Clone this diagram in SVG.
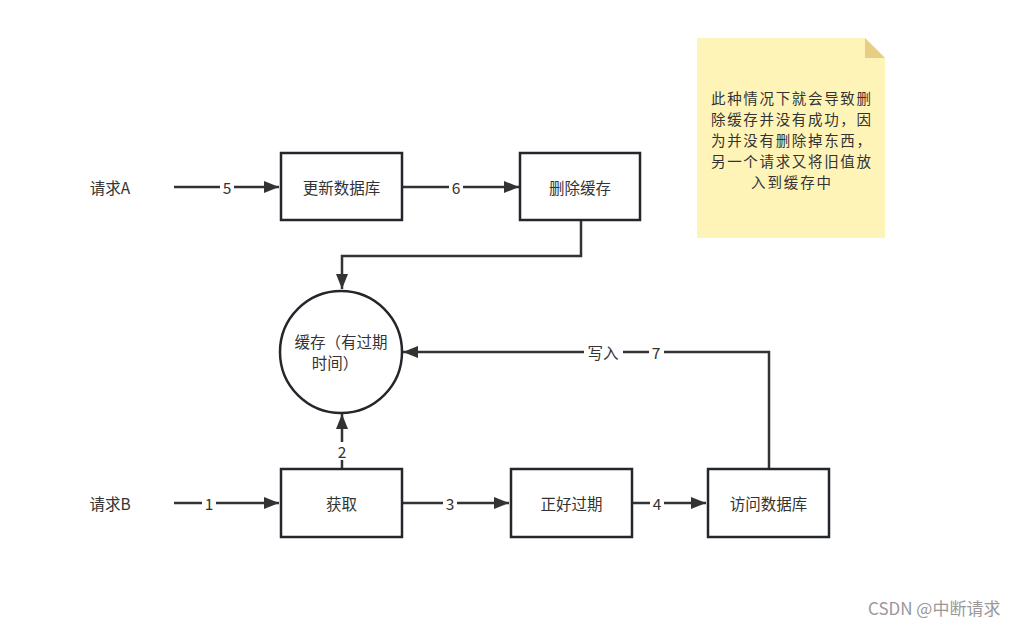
<svg xmlns="http://www.w3.org/2000/svg" width="1020" height="628" viewBox="0 0 1020 628">
<defs>
<style>
text{font-family:"Noto Sans CJK SC","Liberation Sans",sans-serif;font-size:15.5px;fill:#333;}
.box{fill:#fff;stroke:#23272b;stroke-width:2.5;}
.ln{fill:none;stroke:#333;stroke-width:2.5;}
.lbl{text-anchor:middle;dominant-baseline:central;}
.bg{fill:#fff;}
.nt{font-size:14.5px;}
</style>
<marker id="ah" markerWidth="16" markerHeight="12" refX="15" refY="6" orient="auto" markerUnits="userSpaceOnUse">
<path d="M0,0 L15,6 L0,12 Z" fill="#333"/>
</marker>
</defs>
<rect width="1020" height="628" fill="#fff"/>
<g id="connectors">
<path class="ln" d="M174,187 H279" marker-end="url(#ah)"/>
<rect class="bg" x="220" y="178" width="14" height="18"/>
<text class="lbl" x="227" y="187">5</text>
<path class="ln" d="M402,187 H519" marker-end="url(#ah)"/>
<rect class="bg" x="449" y="178" width="14" height="18"/>
<text class="lbl" x="456" y="187">6</text>
<path class="ln" d="M581,220 V256 H342 V289" marker-end="url(#ah)"/>
<path class="ln" d="M769,468 V352 H403" marker-end="url(#ah)"/>
<rect class="bg" x="584" y="343" width="39" height="18"/>
<text class="lbl" x="603" y="352">写入</text>
<rect class="bg" x="649" y="343" width="15" height="18"/>
<text class="lbl" x="656" y="352">7</text>
<path class="ln" d="M342,468 V414" marker-end="url(#ah)"/>
<rect class="bg" x="334" y="442" width="16" height="18"/>
<text class="lbl" x="342" y="451">2</text>
<path class="ln" d="M174,503 H279" marker-end="url(#ah)"/>
<rect class="bg" x="202" y="494" width="14" height="18"/>
<text class="lbl" x="209" y="503">1</text>
<path class="ln" d="M402,503 H509" marker-end="url(#ah)"/>
<rect class="bg" x="443" y="494" width="14" height="18"/>
<text class="lbl" x="450" y="503">3</text>
<path class="ln" d="M632,503 H706" marker-end="url(#ah)"/>
<rect class="bg" x="650" y="494" width="14" height="18"/>
<text class="lbl" x="657" y="503">4</text>
</g>
<g id="reqA"><text class="lbl" x="110" y="187">请求A</text></g>
<g id="reqB"><text class="lbl" x="110" y="503">请求B</text></g>
<g id="updateDb"><rect class="box" x="281" y="153" width="121" height="67"/><text class="lbl" x="341.5" y="187">更新数据库</text></g>
<g id="deleteCache"><rect class="box" x="520" y="153" width="120" height="67"/><text class="lbl" x="580" y="187">删除缓存</text></g>
<g id="cache"><circle class="box" cx="341" cy="352" r="61"/><text class="lbl" x="341" y="341">缓存（有过期</text><text class="lbl" x="335" y="362">时间）</text></g>
<g id="get"><rect class="box" x="281" y="469" width="121" height="68"/><text class="lbl" x="341.5" y="503">获取</text></g>
<g id="expired"><rect class="box" x="511" y="469" width="121" height="68"/><text class="lbl" x="571.5" y="503">正好过期</text></g>
<g id="accessDb"><rect class="box" x="708" y="469" width="121" height="68"/><text class="lbl" x="768.5" y="503">访问数据库</text></g>
<g id="note">
<path d="M697,38 H865 L885,58 V238 H697 Z" fill="#fff4b8"/>
<path d="M865,38 L885,58 H865 Z" fill="#e6cf85"/>
<text class="lbl nt" x="791" y="97" textLength="160" lengthAdjust="spacing">此种情况下就会导致删</text>
<text class="lbl nt" x="791" y="118" textLength="160" lengthAdjust="spacing">除缓存并没有成功，因</text>
<text class="lbl nt" x="791" y="139" textLength="160" lengthAdjust="spacing">为并没有删除掉东西，</text>
<text class="lbl nt" x="791" y="160" textLength="160" lengthAdjust="spacing">另一个请求又将旧值放</text>
<text class="lbl nt" x="791" y="181" textLength="80" lengthAdjust="spacing">入到缓存中</text>
</g>
<text x="868" y="615" style="font-size:17px;fill:#999;">CSDN @中断请求</text>
</svg>
